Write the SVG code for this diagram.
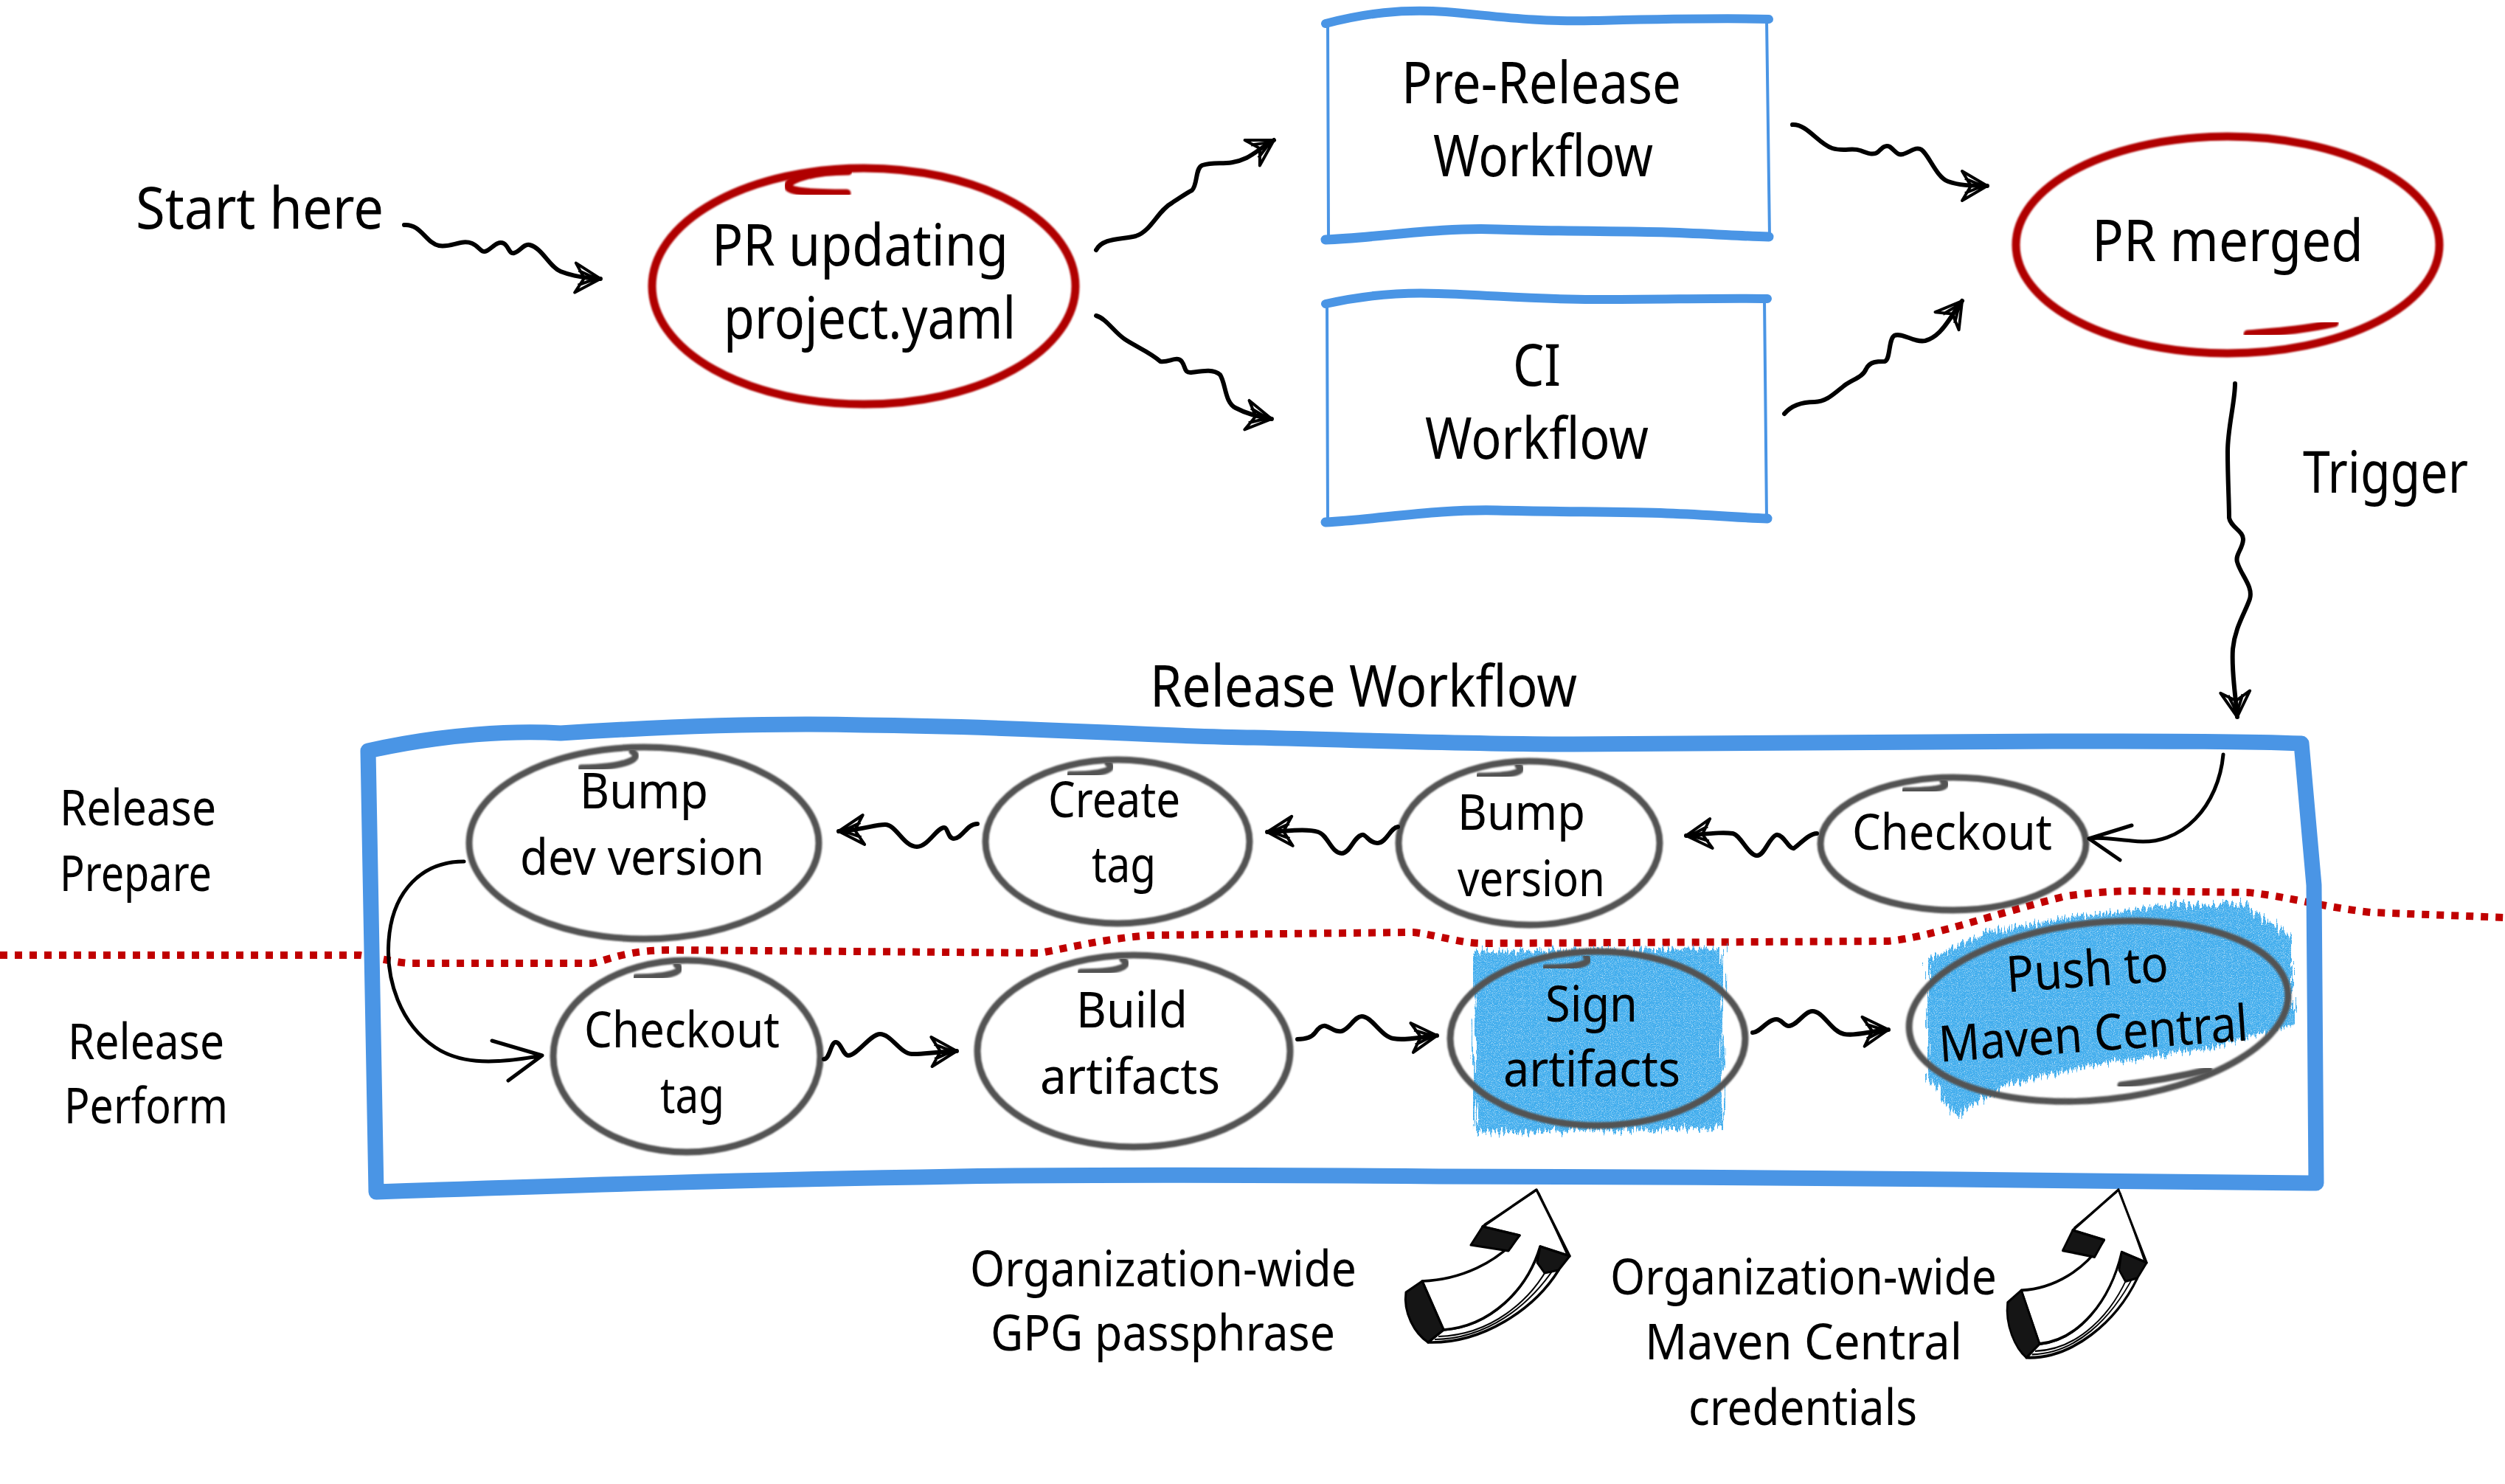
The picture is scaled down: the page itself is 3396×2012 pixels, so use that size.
<svg xmlns="http://www.w3.org/2000/svg" width="3396" height="2012" viewBox="0 0 3396 2012">
<defs>
<style>
.t{font-family:"Noto Sans","DejaVu Sans",sans-serif;fill:#000;}
.big{font-size:78px;}
.mid{font-size:68px;}
.wv{fill:none;stroke:#000;stroke-width:6;stroke-linecap:round;stroke-linejoin:round;}
.cv{fill:none;stroke:#000;stroke-width:5;stroke-linecap:round;stroke-linejoin:round;}
.g{fill:none;stroke:#525252;stroke-width:9;stroke-linecap:round;}
.r{fill:none;stroke:#b00000;stroke-width:11;stroke-linecap:round;}
.bx{fill:none;stroke:#4a95e5;stroke-linecap:round;stroke-linejoin:round;}
.dot{fill:none;stroke:#c00000;stroke-width:10;stroke-dasharray:10 10;}
.fw{fill:#fff;stroke:#000;stroke-width:3.5;stroke-linejoin:round;}
.fd{fill:#151515;stroke:#000;stroke-width:3;stroke-linejoin:round;}
.sk{fill:none;stroke:#000;stroke-width:2;}
.crayon{fill:#22a0ea;opacity:0.88;}
</style>
<marker id="ah" markerUnits="userSpaceOnUse" markerWidth="60" markerHeight="60" viewBox="-40 -30 50 60" refX="0" refY="0" orient="auto">
<path d="M0,0 L-34,-20 L-22,0 L-34,20 Z M-30,-10 L-6,0 L-30,10" fill="none" stroke="#000" stroke-width="4" stroke-linejoin="round"/>
</marker>
<filter id="crf" x="-8%" y="-8%" width="116%" height="116%">
<feTurbulence type="fractalNoise" baseFrequency="0.35 0.02" numOctaves="4" seed="7" result="n"/>
<feDisplacementMap in="SourceGraphic" in2="n" scale="26" xChannelSelector="R" yChannelSelector="G" result="d"/>
<feTurbulence type="fractalNoise" baseFrequency="0.9 0.9" numOctaves="2" seed="3" result="n2"/>
<feColorMatrix in="n2" type="matrix" values="0 0 0 0 0  0 0 0 0 0  0 0 0 0 0  0 0 0 -1.8 1.85" result="m"/>
<feComposite in="d" in2="m" operator="in"/>
</filter>
<filter id="soft" x="-5%" y="-5%" width="110%" height="110%"><feGaussianBlur stdDeviation="1.2"/></filter>
</defs>

<rect width="3396" height="2012" fill="#fff"/>

<!-- red dotted divider -->
<path class="dot" d="M0,1295 L488,1295 C520,1300 540,1306 560,1306 L803,1306 C830,1300 850,1288 911,1288 L1410,1292 C1450,1285 1500,1272 1560,1268 L1916,1264 C1950,1268 1980,1279 2010,1279 L2560,1276 C2620,1270 2700,1240 2800,1215 C2850,1208 2880,1208 2900,1208 L3047,1210 C3100,1215 3150,1230 3214,1237 L3396,1244"/>

<!-- crayon fills -->
<g id="fills" filter="url(#crf)">
<path class="crayon" d="M1998,1290 L2335,1286 L2336,1528 L2200,1532 L2000,1536 Z"/>
<path class="crayon" d="M2613,1300 L2700,1262 L2820,1242 L2950,1226 L3040,1226 L3107,1270 L3107,1390 L2990,1422 L2850,1442 L2720,1470 L2650,1513 L2613,1460 Z"/>
</g>

<!-- Release workflow container -->
<g id="release-workflow">
<path class="bx" stroke-width="21" d="M499,1018 C600,995 700,990 760,994 C900,985 1050,980 1171,983 C1400,985 1550,998 1700,1000 C1900,1005 2000,1009 2133,1009 C2400,1009 2600,1005 2782,1005 C2950,1005 3050,1005 3120,1008 L3137,1200 L3140,1604 C3000,1604 2800,1600 2650,1599 C2400,1597 2200,1595 1950,1595 C1700,1593 1500,1592 1300,1595 C1000,1600 800,1606 510,1616 Z"/>
<text class="t big" x="1559" y="958" textLength="579" lengthAdjust="spacingAndGlyphs">Release Workflow</text>
</g>

<!-- lane labels -->
<g id="label-prepare">
<text class="t mid" x="81" y="1119" textLength="212" lengthAdjust="spacingAndGlyphs">Release</text>
<text class="t mid" x="81" y="1208" textLength="206" lengthAdjust="spacingAndGlyphs">Prepare</text>
</g>
<g id="label-perform">
<text class="t mid" x="92" y="1436" textLength="212" lengthAdjust="spacingAndGlyphs">Release</text>
<text class="t mid" x="87" y="1523" textLength="222" lengthAdjust="spacingAndGlyphs">Perform</text>
</g>

<!-- top nodes -->
<g id="start-here">
<text class="t big" x="184" y="310" textLength="336" lengthAdjust="spacingAndGlyphs">Start here</text>
</g>

<g id="pr-updating">
<ellipse class="r" cx="1171" cy="388" rx="287" ry="160" filter="url(#soft)"/>
<path class="r" d="M1150,232 C1100,232 1060,245 1070,255 C1080,262 1120,262 1148,262" filter="url(#soft)"/>
<text class="t big" x="965" y="360" textLength="402" lengthAdjust="spacingAndGlyphs">PR updating</text>
<text class="t big" x="981" y="459" textLength="396" lengthAdjust="spacingAndGlyphs">project.yaml</text>
</g>

<g id="pre-release">
<path class="bx" stroke-width="4" d="M1800,30 L1801,325 M2395,26 L2399,321"/>
<path class="bx" stroke-width="12" d="M1797,32 C1850,18 1900,12 1960,16 C2030,22 2080,30 2160,28 C2250,26 2330,24 2398,26"/>
<path class="bx" stroke-width="13" d="M1797,325 C1870,322 1950,308 2030,311 C2120,314 2200,313 2260,315 C2320,317 2360,320 2398,321"/>
<text class="t big" x="1900" y="140" textLength="379" lengthAdjust="spacingAndGlyphs">Pre-Release</text>
<text class="t big" x="1943" y="239" textLength="298" lengthAdjust="spacingAndGlyphs">Workflow</text>
</g>

<g id="ci">
<path class="bx" stroke-width="4" d="M1799,410 L1800,708 M2392,405 L2395,703"/>
<path class="bx" stroke-width="12" d="M1797,412 C1850,400 1900,396 1950,398 C2020,400 2080,406 2160,406 C2260,406 2330,404 2396,405"/>
<path class="bx" stroke-width="13" d="M1797,708 C1870,704 1950,690 2030,692 C2120,694 2200,694 2260,696 C2320,698 2360,702 2396,703"/>
<text class="t big" x="2051" y="523" textLength="65" lengthAdjust="spacingAndGlyphs">CI</text>
<text class="t big" x="1932" y="622" textLength="303" lengthAdjust="spacingAndGlyphs">Workflow</text>
</g>

<g id="pr-merged">
<ellipse class="r" cx="3020" cy="332" rx="287" ry="147" filter="url(#soft)"/>
<path class="r" d="M3047,453 C3080,450 3120,448 3165,438" filter="url(#soft)"/>
<text class="t big" x="2836" y="354" textLength="368" lengthAdjust="spacingAndGlyphs">PR merged</text>
</g>

<g id="trigger-label">
<text class="t big" x="3122" y="668" textLength="224" lengthAdjust="spacingAndGlyphs">Trigger</text>
</g>

<!-- workflow steps -->
<g id="bump-dev-version">
<ellipse class="g" cx="873" cy="1143" rx="237" ry="130" filter="url(#soft)"/>
<path class="g" d="M857,1019 C872,1028 850,1040 788,1041" filter="url(#soft)"/>
<text class="t mid" x="786" y="1096" textLength="174" lengthAdjust="spacingAndGlyphs">Bump</text>
<text class="t mid" x="705" y="1186" textLength="331" lengthAdjust="spacingAndGlyphs">dev version</text>
</g>

<g id="create-tag">
<ellipse class="g" cx="1515" cy="1141" rx="179" ry="111" filter="url(#soft)"/>
<path class="g" d="M1502,1035 C1514,1043 1495,1050 1450,1050" filter="url(#soft)"/>
<text class="t mid" x="1421" y="1108" textLength="179" lengthAdjust="spacingAndGlyphs">Create</text>
<text class="t mid" x="1480" y="1196" textLength="87" lengthAdjust="spacingAndGlyphs">tag</text>
</g>

<g id="bump-version">
<ellipse class="g" cx="2073" cy="1143" rx="177" ry="111" filter="url(#soft)"/>
<path class="g" d="M2058,1038 C2070,1046 2050,1052 2005,1052" filter="url(#soft)"/>
<text class="t mid" x="1976" y="1125" textLength="173" lengthAdjust="spacingAndGlyphs">Bump</text>
<text class="t mid" x="1976" y="1215" textLength="200" lengthAdjust="spacingAndGlyphs">version</text>
</g>

<g id="checkout">
<ellipse class="g" cx="2648" cy="1144" rx="180" ry="90" filter="url(#soft)"/>
<path class="g" d="M2634,1059 C2646,1067 2626,1072 2582,1072" filter="url(#soft)"/>
<text class="t mid" x="2511" y="1152" textLength="271" lengthAdjust="spacingAndGlyphs">Checkout</text>
</g>

<g id="checkout-tag">
<ellipse class="g" cx="931" cy="1432" rx="181" ry="130" filter="url(#soft)"/>
<path class="g" d="M917,1308 C930,1317 910,1324 862,1325" filter="url(#soft)"/>
<text class="t mid" x="792" y="1420" textLength="265" lengthAdjust="spacingAndGlyphs">Checkout</text>
<text class="t mid" x="895" y="1509" textLength="87" lengthAdjust="spacingAndGlyphs">tag</text>
</g>

<g id="build-artifacts">
<ellipse class="g" cx="1537" cy="1425" rx="212" ry="130" filter="url(#soft)"/>
<path class="g" d="M1522,1301 C1536,1310 1515,1318 1465,1318" filter="url(#soft)"/>
<text class="t mid" x="1459" y="1393" textLength="151" lengthAdjust="spacingAndGlyphs">Build</text>
<text class="t mid" x="1410" y="1483" textLength="244" lengthAdjust="spacingAndGlyphs">artifacts</text>
</g>

<g id="sign-artifacts">
<ellipse class="g" cx="2166" cy="1408" rx="200" ry="118" filter="url(#soft)"/>
<path class="g" d="M2150,1297 C2162,1306 2135,1312 2095,1312" filter="url(#soft)"/>
<text class="t mid" x="2095" y="1385" textLength="125" lengthAdjust="spacingAndGlyphs">Sign</text>
<text class="t mid" x="2038" y="1473" textLength="240" lengthAdjust="spacingAndGlyphs">artifacts</text>
</g>

<g id="push-maven-central">
<ellipse class="g" cx="2845" cy="1371" rx="258" ry="120" transform="rotate(-6 2845 1371)" filter="url(#soft)"/>
<path class="g" d="M2875,1471 C2910,1467 2945,1462 2995,1450" filter="url(#soft)"/>
<g transform="rotate(-4 2840 1390)">
<text class="t mid" x="2725" y="1337" textLength="220" lengthAdjust="spacingAndGlyphs">Push to</text>
<text class="t mid" x="2627" y="1425" textLength="420" lengthAdjust="spacingAndGlyphs">Maven Central</text>
</g>
</g>

<!-- connectors -->
<g id="connectors">
<path class="wv" marker-end="url(#ah)" d="M548,305 C570,303 578,330 595,333 C612,336 625,324 640,330 C650,334 652,344 660,340 C668,336 674,326 683,330 C690,334 690,345 697,343 C705,341 710,330 718,332 C735,336 745,362 760,368 C775,374 790,377 814,378"/>
<path class="wv" marker-end="url(#ah)" d="M1486,339 C1495,322 1520,325 1540,320 C1560,314 1570,285 1589,275 C1600,268 1608,262 1616,258 C1624,250 1620,228 1630,224 C1650,218 1665,226 1690,214 C1702,208 1710,200 1727,190"/>
<path class="wv" marker-end="url(#ah)" d="M1486,428 C1500,432 1510,450 1525,460 C1540,470 1560,478 1573,490 C1585,492 1595,482 1602,490 C1608,498 1605,506 1615,505 C1630,503 1645,500 1654,508 C1662,520 1660,545 1675,553 C1690,561 1705,565 1724,568"/>
<path class="wv" marker-end="url(#ah)" d="M2430,169 C2450,168 2465,195 2484,201 C2500,206 2510,200 2522,204 C2532,208 2540,211 2546,206 C2552,200 2556,196 2562,199 C2570,205 2572,211 2580,209 C2590,206 2598,198 2605,203 C2615,210 2625,240 2641,246 C2655,251 2670,252 2694,252"/>
<path class="wv" marker-end="url(#ah)" d="M2419,561 C2430,548 2445,545 2460,545 C2475,545 2485,535 2500,523 C2512,514 2525,512 2530,500 C2535,490 2545,490 2555,490 C2563,488 2560,460 2568,455 C2578,450 2595,465 2610,462 C2625,458 2635,445 2645,430 C2650,422 2654,416 2660,408"/>
<path class="wv" marker-end="url(#ah)" d="M3030,520 C3030,545 3020,580 3020,612 C3020,650 3022,680 3022,702 C3024,715 3042,720 3041,732 C3040,745 3030,752 3033,762 C3038,780 3055,795 3050,812 C3044,830 3030,850 3027,880 C3025,910 3030,935 3033,972"/>
<path class="cv" d="M3014,1023 C3008,1090 2960,1150 2890,1140 C2860,1137 2845,1135 2832,1137 M2890,1119 L2832,1137 L2874,1166"/>
<path class="wv" marker-end="url(#ah)" d="M2463,1130 C2452,1130 2440,1145 2432,1150 C2425,1152 2418,1130 2408,1132 C2398,1136 2392,1160 2382,1160 C2370,1160 2360,1132 2349,1130 C2335,1128 2320,1130 2286,1133"/>
<path class="wv" marker-end="url(#ah)" d="M1895,1121 C1885,1122 1880,1142 1868,1143 C1856,1144 1852,1130 1846,1132 C1835,1135 1830,1157 1819,1157 C1805,1157 1800,1132 1787,1128 C1770,1123 1745,1127 1718,1128"/>
<path class="wv" marker-end="url(#ah)" d="M1325,1117 C1310,1117 1305,1137 1293,1137 C1285,1137 1285,1122 1280,1122 C1270,1122 1258,1148 1243,1148 C1225,1148 1215,1118 1200,1118 C1185,1118 1170,1125 1137,1127"/>
<path class="cv" d="M629,1168 C570,1168 535,1210 528,1265 C520,1330 545,1390 590,1420 C620,1440 660,1445 735,1431 M667,1411 L735,1431 L689,1465"/>
<path class="wv" marker-end="url(#ah)" d="M1117,1436 C1125,1436 1126,1413 1133,1413 C1140,1413 1143,1431 1150,1431 C1162,1431 1180,1402 1193,1402 C1208,1402 1220,1428 1236,1429 C1250,1430 1265,1426 1297,1425"/>
<path class="wv" marker-end="url(#ah)" d="M1759,1409 C1770,1409 1778,1407 1783,1400 C1788,1393 1792,1390 1797,1391 C1805,1393 1810,1400 1819,1398 C1830,1395 1836,1378 1846,1378 C1860,1378 1872,1405 1889,1408 C1905,1411 1925,1406 1948,1404"/>
<path class="wv" marker-end="url(#ah)" d="M2376,1400 C2386,1400 2396,1382 2408,1382 C2416,1382 2418,1391 2425,1391 C2436,1391 2446,1371 2457,1371 C2472,1371 2482,1398 2500,1402 C2515,1405 2535,1398 2560,1396"/>
</g>

<!-- secret inputs -->
<g id="arrow-gpg">
<path class="fw" d="M1957,1803 C2020,1798 2070,1750 2088,1690 L2113,1722 C2080,1775 2010,1822 1936,1820 Z"/>
<path class="sk" d="M1950,1812 C2020,1810 2075,1765 2102,1712 M1945,1816 C2015,1815 2072,1772 2108,1718"/>
<path class="fw" d="M2083,1613 L2010,1663 L2060,1675 C2030,1712 1980,1735 1928,1737 L1957,1803 C2020,1798 2070,1750 2088,1690 L2128,1703 Z"/>
<path class="sk" d="M2080,1616 L2012,1660 M2086,1617 L2124,1700"/>
<path class="fd" d="M2010,1663 L2060,1675 L2045,1696 L1994,1688 Z"/>
<path class="fd" d="M2088,1690 L2128,1703 L2113,1722 L2094,1726 L2084,1712 Z"/>
<path class="fd" d="M1928,1737 L1906,1752 C1902,1780 1918,1808 1936,1820 L1957,1803 Z"/>
</g>
<g id="arrow-maven" transform="translate(2872 1613) scale(0.85 1.1) translate(-2083 -1613)">
<path class="fw" d="M1957,1803 C2020,1798 2070,1750 2088,1690 L2113,1722 C2080,1775 2010,1822 1936,1820 Z"/>
<path class="sk" d="M1950,1812 C2020,1810 2075,1765 2102,1712 M1945,1816 C2015,1815 2072,1772 2108,1718"/>
<path class="fw" d="M2083,1613 L2010,1663 L2060,1675 C2030,1712 1980,1735 1928,1737 L1957,1803 C2020,1798 2070,1750 2088,1690 L2128,1703 Z"/>
<path class="sk" d="M2080,1616 L2012,1660 M2086,1617 L2124,1700"/>
<path class="fd" d="M2010,1663 L2060,1675 L2045,1696 L1994,1688 Z"/>
<path class="fd" d="M2088,1690 L2128,1703 L2113,1722 L2094,1726 L2084,1712 Z"/>
<path class="fd" d="M1928,1737 L1906,1752 C1902,1780 1918,1808 1936,1820 L1957,1803 Z"/>
</g>

<g id="gpg-label">
<text class="t mid" x="1315" y="1744" textLength="524" lengthAdjust="spacingAndGlyphs">Organization-wide</text>
<text class="t mid" x="1343" y="1831" textLength="467" lengthAdjust="spacingAndGlyphs">GPG passphrase</text>
</g>
<g id="maven-label">
<text class="t mid" x="2183" y="1755" textLength="524" lengthAdjust="spacingAndGlyphs">Organization-wide</text>
<text class="t mid" x="2230" y="1843" textLength="430" lengthAdjust="spacingAndGlyphs">Maven Central</text>
<text class="t mid" x="2289" y="1932" textLength="310" lengthAdjust="spacingAndGlyphs">credentials</text>
</g>
</svg>
